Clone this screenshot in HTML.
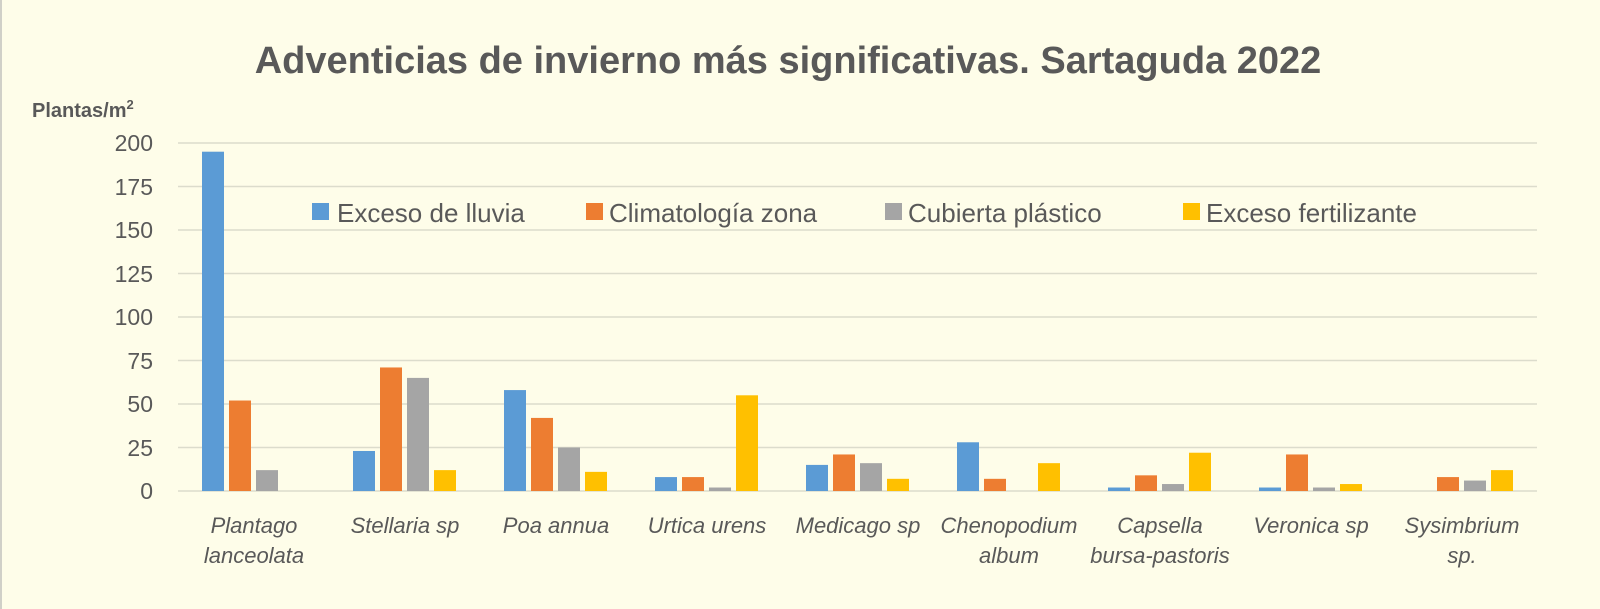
<!DOCTYPE html>
<html><head><meta charset="utf-8"><style>
html,body{margin:0;padding:0;background:#FEFDE9;}
svg{display:block}
text{font-family:"Liberation Sans",sans-serif;fill:#595959}
</style></head><body>
<svg width="1600" height="609" viewBox="0 0 1600 609" xmlns="http://www.w3.org/2000/svg">
<rect x="0" y="0" width="1600" height="609" fill="#FEFDE9"/>
<line x1="1" y1="0" x2="1" y2="609" stroke="#d0d0c8" stroke-width="2"/>
<text x="788" y="73" font-size="38" font-weight="bold" text-anchor="middle">Adventicias de invierno más significativas. Sartaguda 2022</text>
<text x="32" y="117" font-size="20" font-weight="bold">Plantas/m<tspan font-size="13" dy="-8">2</tspan></text>
<g stroke="#dcdccc" stroke-width="1.5">
<line x1="178" y1="143" x2="1537" y2="143"/>
<line x1="178" y1="186.5" x2="1537" y2="186.5"/>
<line x1="178" y1="230" x2="1537" y2="230"/>
<line x1="178" y1="273.5" x2="1537" y2="273.5"/>
<line x1="178" y1="317" x2="1537" y2="317"/>
<line x1="178" y1="360.5" x2="1537" y2="360.5"/>
<line x1="178" y1="404" x2="1537" y2="404"/>
<line x1="178" y1="447.5" x2="1537" y2="447.5"/>
<line x1="178" y1="491" x2="1537" y2="491"/>
</g>
<g font-size="23" text-anchor="end">
<text x="153" y="151">200</text><text x="153" y="195">175</text><text x="153" y="238">150</text>
<text x="153" y="282">125</text><text x="153" y="325">100</text><text x="153" y="369">75</text>
<text x="153" y="412">50</text><text x="153" y="456">25</text><text x="153" y="499">0</text>
</g>
<g>
<rect x="202" y="151.7" width="22" height="339.3" fill="#5B9BD5"/>
<rect x="229" y="400.52" width="22" height="90.48" fill="#ED7D31"/>
<rect x="256" y="470.12" width="22" height="20.88" fill="#A5A5A5"/>

<rect x="353" y="450.98" width="22" height="40.02" fill="#5B9BD5"/>
<rect x="380" y="367.46" width="22" height="123.54" fill="#ED7D31"/>
<rect x="407" y="377.9" width="22" height="113.1" fill="#A5A5A5"/>
<rect x="434" y="470.12" width="22" height="20.88" fill="#FFC000"/>

<rect x="504" y="390.08" width="22" height="100.92" fill="#5B9BD5"/>
<rect x="531" y="417.92" width="22" height="73.08" fill="#ED7D31"/>
<rect x="558" y="447.5" width="22" height="43.5" fill="#A5A5A5"/>
<rect x="585" y="471.86" width="22" height="19.14" fill="#FFC000"/>

<rect x="655" y="477.08" width="22" height="13.92" fill="#5B9BD5"/>
<rect x="682" y="477.08" width="22" height="13.92" fill="#ED7D31"/>
<rect x="709" y="487.52" width="22" height="3.48" fill="#A5A5A5"/>
<rect x="736" y="395.3" width="22" height="95.7" fill="#FFC000"/>

<rect x="806" y="464.9" width="22" height="26.1" fill="#5B9BD5"/>
<rect x="833" y="454.46" width="22" height="36.54" fill="#ED7D31"/>
<rect x="860" y="463.16" width="22" height="27.84" fill="#A5A5A5"/>
<rect x="887" y="478.82" width="22" height="12.18" fill="#FFC000"/>

<rect x="957" y="442.28" width="22" height="48.72" fill="#5B9BD5"/>
<rect x="984" y="478.82" width="22" height="12.18" fill="#ED7D31"/>
<rect x="1038" y="463.16" width="22" height="27.84" fill="#FFC000"/>

<rect x="1108" y="487.52" width="22" height="3.48" fill="#5B9BD5"/>
<rect x="1135" y="475.34" width="22" height="15.66" fill="#ED7D31"/>
<rect x="1162" y="484.04" width="22" height="6.96" fill="#A5A5A5"/>
<rect x="1189" y="452.72" width="22" height="38.28" fill="#FFC000"/>

<rect x="1259" y="487.52" width="22" height="3.48" fill="#5B9BD5"/>
<rect x="1286" y="454.46" width="22" height="36.54" fill="#ED7D31"/>
<rect x="1313" y="487.52" width="22" height="3.48" fill="#A5A5A5"/>
<rect x="1340" y="484.04" width="22" height="6.96" fill="#FFC000"/>

<rect x="1437" y="477.08" width="22" height="13.92" fill="#ED7D31"/>
<rect x="1464" y="480.56" width="22" height="10.44" fill="#A5A5A5"/>
<rect x="1491" y="470.12" width="22" height="20.88" fill="#FFC000"/>
</g>
<g font-size="22" font-style="italic" text-anchor="middle">
<text x="254" y="533">Plantago</text><text x="254" y="563">lanceolata</text>
<text x="405" y="533">Stellaria sp</text>
<text x="556" y="533">Poa annua</text>
<text x="707" y="533">Urtica urens</text>
<text x="858" y="533">Medicago sp</text>
<text x="1009" y="533">Chenopodium</text><text x="1009" y="563">album</text>
<text x="1160" y="533">Capsella</text><text x="1160" y="563">bursa-pastoris</text>
<text x="1311" y="533">Veronica sp</text>
<text x="1462" y="533">Sysimbrium</text><text x="1462" y="563">sp.</text>
</g>
<g font-size="26">
<rect x="312" y="203" width="17" height="17" fill="#5B9BD5"/><text x="337" y="222">Exceso de lluvia</text>
<rect x="586" y="203" width="17" height="17" fill="#ED7D31"/><text x="609" y="222">Climatología zona</text>
<rect x="885" y="203" width="17" height="17" fill="#A5A5A5"/><text x="908" y="222">Cubierta plástico</text>
<rect x="1183" y="203" width="17" height="17" fill="#FFC000"/><text x="1206" y="222">Exceso fertilizante</text>
</g>
</svg>
</body></html>
